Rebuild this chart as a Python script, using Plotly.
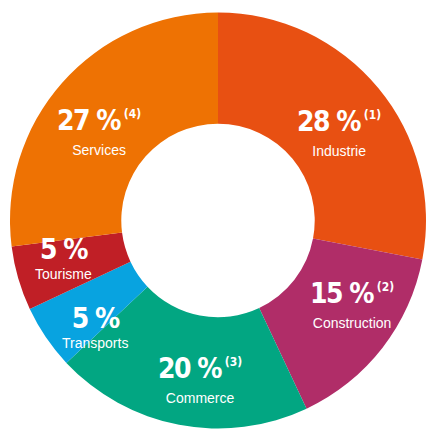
import math
import plotly.graph_objects as go

# share of jobs by sector (clockwise from 12 o'clock)
categories = ["Industrie", "Construction", "Commerce", "Transports", "Tourisme", "Services"]
shares = [28, 15, 20, 5, 5, 27]
notes = ["(1)", "(2)", "(3)", "", "", "(4)"]
colors = ["#E85012", "#B02D68", "#02A682", "#08A3E0", "#C01F26", "#EE7203"]

W, H = 426, 429
HOLE = 0.465
NUM_FONT = "DejaVu Sans Condensed"
# label placement: radius as fraction of outer radius, small angle nudge (deg)
LABEL_R = [0.71, 0.77, 0.785, 0.79, 0.77, 0.705]
LABEL_NUDGE = [4.7, -4.7, -4.5, -7.5, 1.6, -5.7]

dom_x = [10 / W, 1]
dom_y = [0, 1 - 12 / H]

fig = go.Figure(go.Pie(
    labels=categories,
    values=shares,
    textinfo="none",
    sort=False,
    direction="clockwise",
    rotation=0,
    hole=HOLE,
    marker=dict(colors=colors, line=dict(width=0)),
    domain=dict(x=dom_x, y=dom_y),
    showlegend=False,
    hoverinfo="label+percent",
))

# where plotly puts the donut inside its domain
dw = (dom_x[1] - dom_x[0]) * W
dh = (dom_y[1] - dom_y[0]) * H
R = min(dw, dh) / 2
CX = dom_x[0] * W + dw / 2
CY = (1 - dom_y[1]) * H + dh / 2

total = sum(shares)
cum = 0
for i, (cat, val, note) in enumerate(zip(categories, shares, notes)):
    mid = 2 * math.pi * (cum + val / 2) / total + math.radians(LABEL_NUDGE[i])
    cum += val
    rc = LABEL_R[i] * R
    px = CX + rc * math.sin(mid)
    py = CY - rc * math.cos(mid)
    small = val < 10
    sup = ""
    if note:
        sup = f"<sup><span style='font-size:12px;letter-spacing:0px'><b> {note}</b></span></sup>"
    top = (f"<span style='font-size:28px;font-family:{NUM_FONT};letter-spacing:-1.5px'>"
           f"<b>{val} %</b>{sup}</span>")
    txt = top + f"<br><span style='font-size:14px'>{cat}</span>"
    fig.add_annotation(
        x=px / W, y=1 - py / H, xref="paper", yref="paper",
        text=txt, showarrow=False, xanchor="center", yanchor="middle",
        yshift=3 if small else 4,
        font=dict(family="Liberation Sans, Arial", color="white", size=15 if small else 19),
    )

fig.update_layout(
    width=W, height=H,
    margin=dict(l=0, r=0, t=0, b=0),
    paper_bgcolor="white",
)

fig.write_html("out.html", config={"displayModeBar": False},
               post_script="document.body.style.margin='0';")
